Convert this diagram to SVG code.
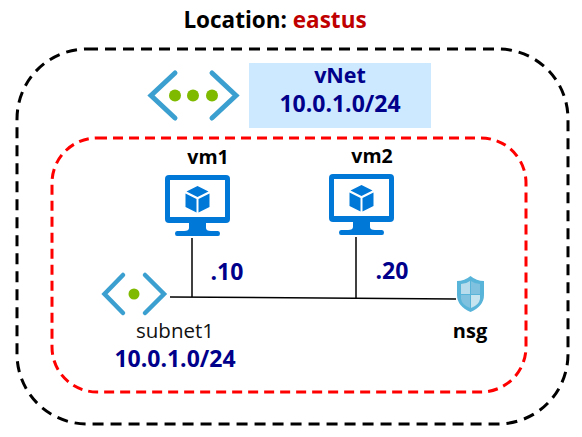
<svg xmlns="http://www.w3.org/2000/svg" width="582" height="437" viewBox="0 0 582 437">
<style>
text{font-family:"Open Sans","Noto Sans","Liberation Sans",sans-serif;text-anchor:middle}
.b{font-weight:700;font-size:23px}
.l{font-weight:700;font-size:19.500px}
.n{fill:#00008b}
.k{fill:#000}
.chev{fill:none;stroke:#3ba0d0;stroke-width:5;stroke-linecap:round;stroke-linejoin:miter}
.sm{stroke-width:4.500px}
.dot{fill:#7fba00}
.vm{fill:#0078d7}
.conn{stroke:#000;stroke-width:1.5;fill:none}
</style>
<defs>
<g id="vmicon">
<rect x="0" y="0" width="65" height="48" rx="4" class="vm"/>
<rect x="5" y="5" width="55" height="37" fill="#fff"/>
<path class="vm" d="M24 48h17v5q0 3 5 3h7q2 0 2 2.500t-2 2.500h-41q-2 0-2-2.500t2-2.500h7q5 0 5-3z"/>
<path class="vm" d="M32.500 11l11 5.500-11 5.500-11-5.500z"/>
<path class="vm" d="M20.500 18.500l11 5.500v13.500l-11-5.500z"/>
<path class="vm" d="M44.500 18.500l-11 5.500v13.500l11-5.500z"/>
</g>
</defs>
<g id="location-boundary"><rect x="17" y="49" width="551" height="375" rx="70" fill="none" stroke="#000" stroke-width="3" stroke-dasharray="11 7"/></g>
<g id="subnet-boundary"><rect x="52" y="138" width="474" height="254" rx="45" fill="none" stroke="#f00" stroke-width="3" stroke-dasharray="10 6"/></g>
<g id="connectors">
<path class="conn" d="M170 297L456 299"/>
<path class="conn" d="M192 238V297"/>
<path class="conn" d="M356 237V298"/>
</g>
<g id="title"><text x="275" y="28" style="font-size:22.500px;font-weight:700"><tspan class="k">Location: </tspan><tspan fill="#c00000">eastus</tspan></text></g>
<g id="vnet">
<rect x="249" y="63" width="182" height="65" fill="#cce9ff"/>
<path class="chev" d="M175 73L151 95.500L175 118"/>
<path class="chev" d="M212 73L236 95.500L212 118"/>
<circle class="dot" cx="175" cy="95.500" r="6"/><circle class="dot" cx="193" cy="95.500" r="6"/><circle class="dot" cx="212" cy="95.500" r="6"/>
<text class="n" x="340" y="83" style="font-size:21.500px;font-weight:700">vNet</text>
<text class="b n" x="340" y="112">10.0.1.0/24</text>
</g>
<g id="vm1"><text class="l k" x="208" y="164">vm1</text><use href="#vmicon" x="165" y="175"/><text class="b n" x="227" y="280">.10</text></g>
<g id="vm2"><text class="l k" x="372" y="163">vm2</text><use href="#vmicon" x="329" y="174"/><text class="b n" x="392" y="279">.20</text></g>
<g id="subnet1">
<path class="chev sm" d="M123 275L104.500 294L123 313"/>
<path class="chev sm" d="M145 275L164 294L145 313"/>
<circle class="dot" cx="134" cy="294" r="5.500"/>
<text x="175" y="338" style="font-size:20.500px" fill="#111">subnet1</text>
<text class="b n" x="175" y="367">10.0.1.0/24</text>
</g>
<g id="nsg">
<path d="M470.500 276q6 5 13.500 5v14q0 11-13.500 17q-13.500-6-13.500-17v-14q7.500 0 13.500-5z" fill="#59b4d9"/>
<path d="M461 284q5 0 9-3v13h-9z" fill="#b9dcec"/><path d="M471 281q4 3 9 3v10h-9z" fill="#7fc1de"/>
<path d="M461 295h9v13q-8-3-9-9z" fill="#7fc1de"/><path d="M471 295h9v4q-1 6-9 9z" fill="#c6e3f0"/>
<text x="470" y="338" style="font-size:20px;font-weight:700" class="k">nsg</text>
</g>
</svg>
